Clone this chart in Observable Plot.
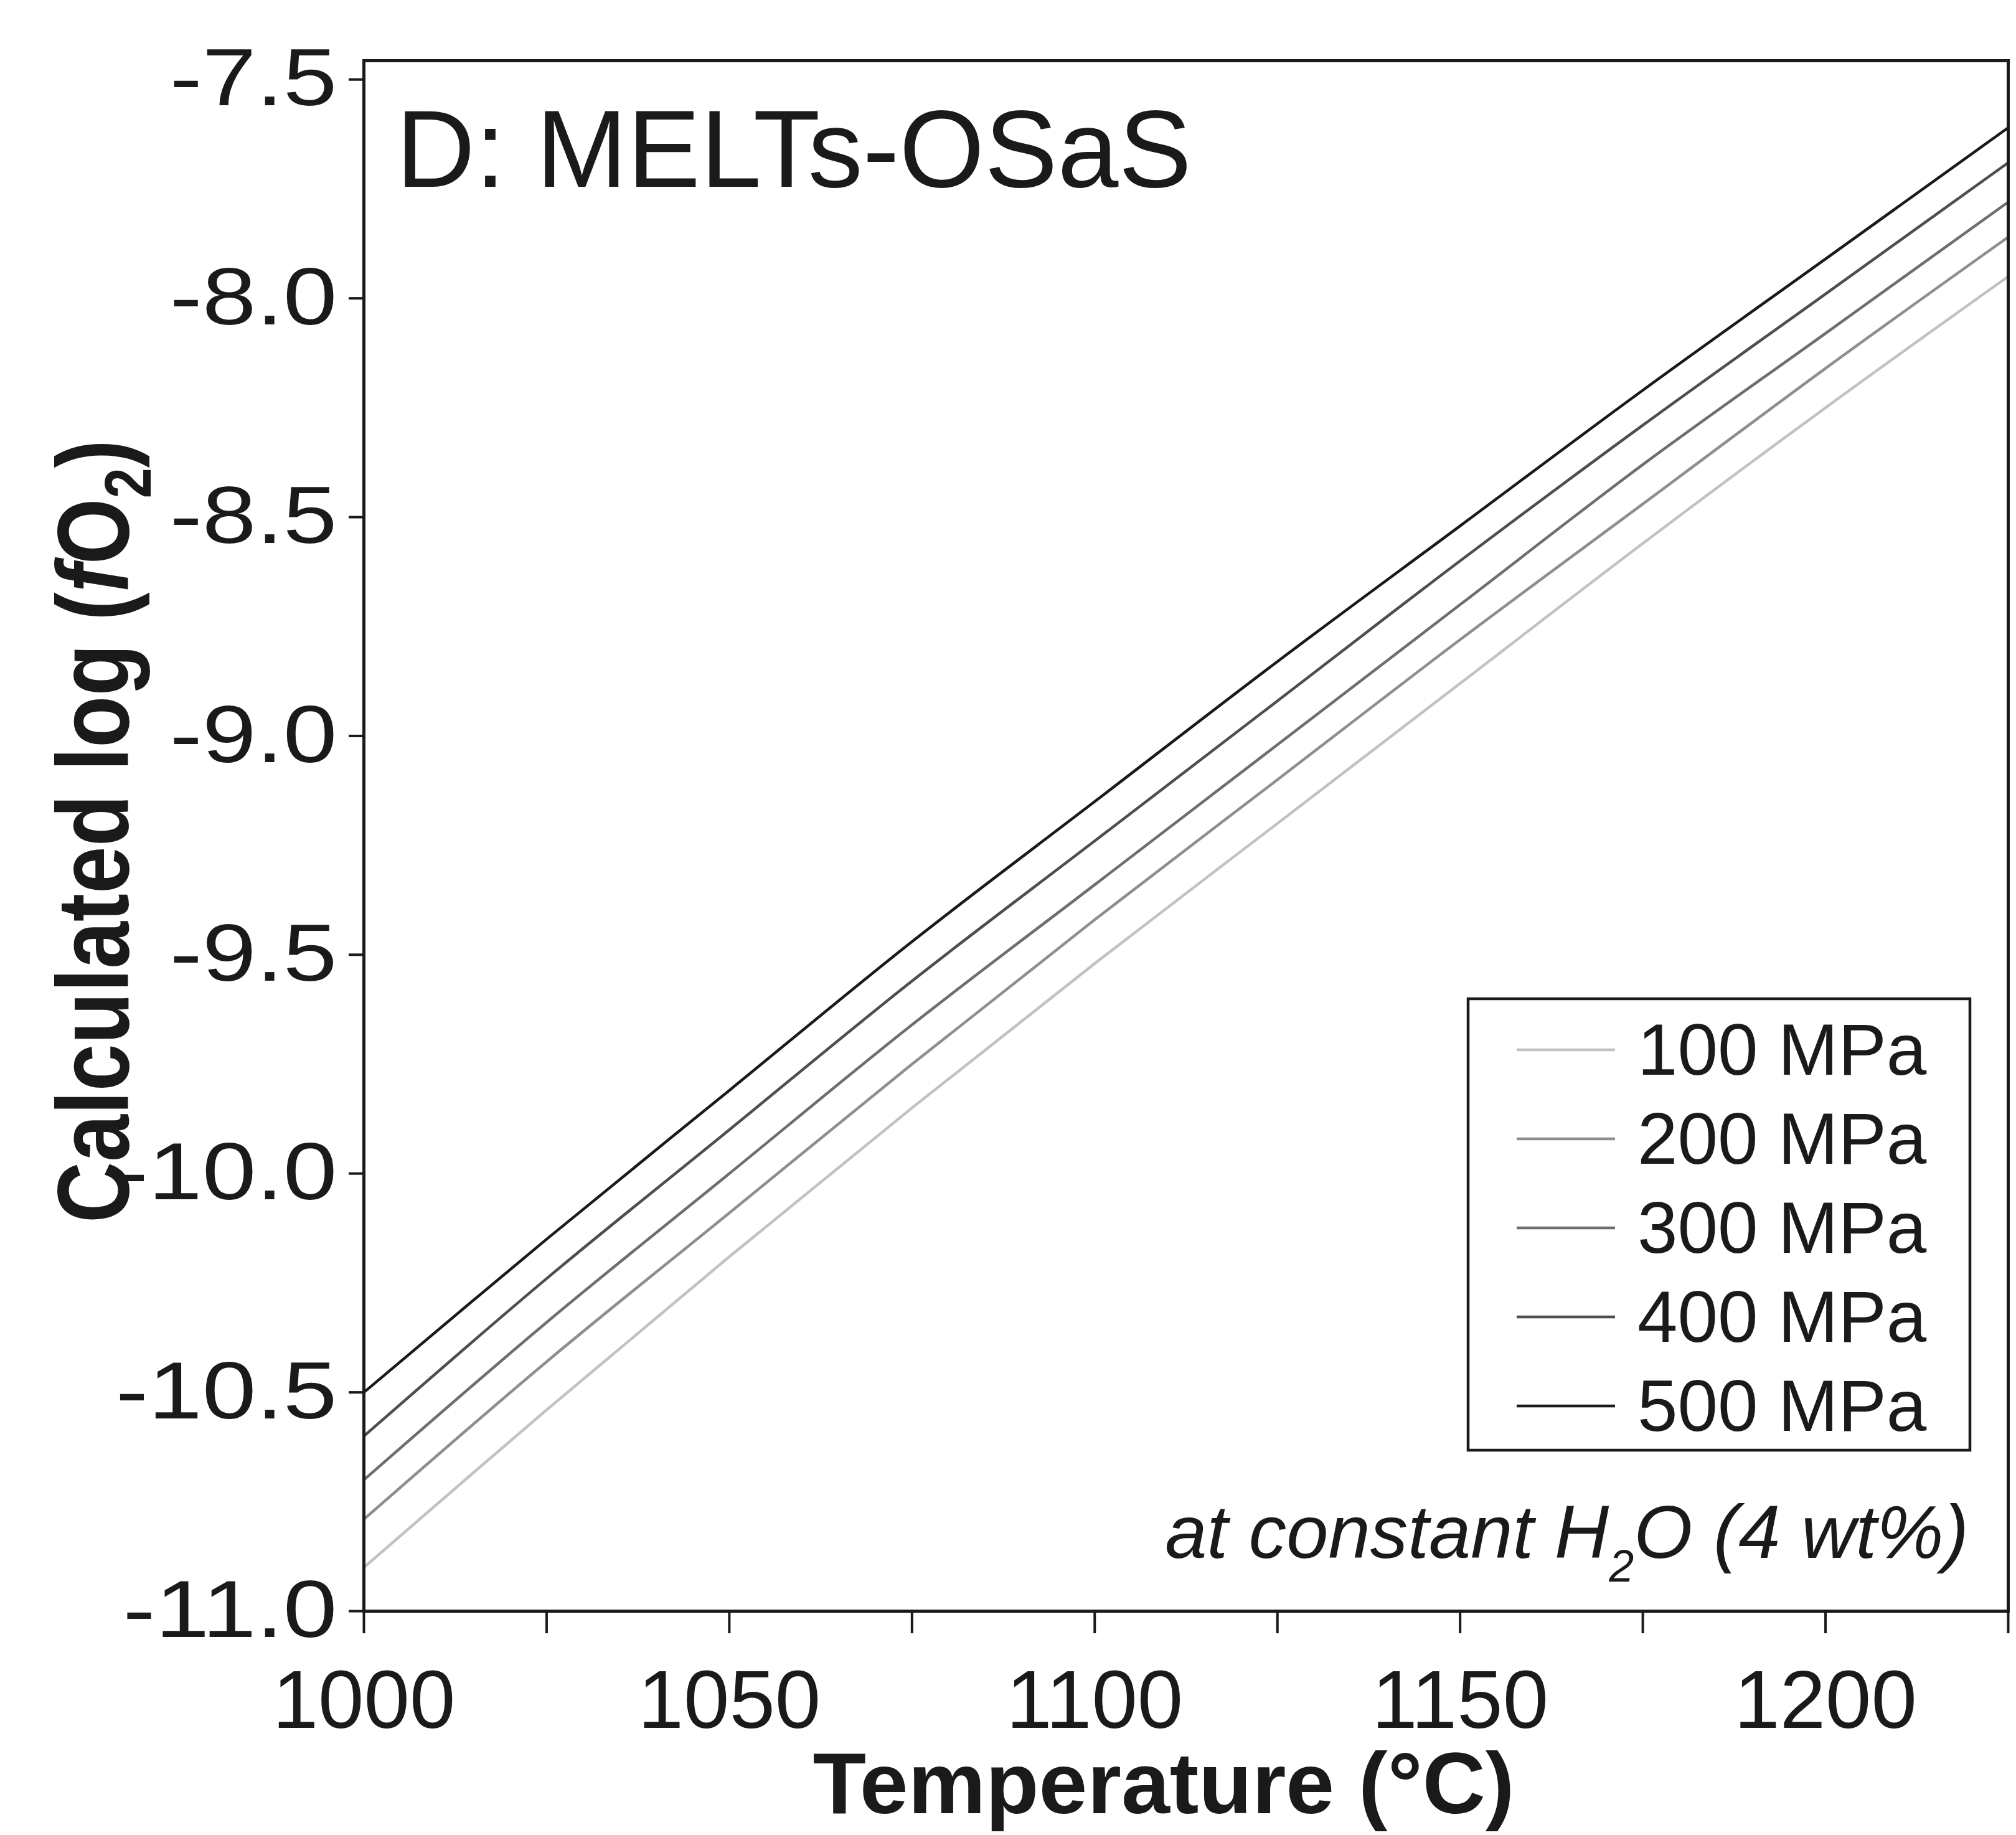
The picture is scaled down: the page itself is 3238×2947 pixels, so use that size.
<!DOCTYPE html>
<html><head><meta charset="utf-8">
<script src="https://cdn.jsdelivr.net/npm/d3@7"></script>
<script src="https://cdn.jsdelivr.net/npm/@observablehq/plot@0.6"></script>
<style>body{margin:0;background:#fff}</style>
</head><body><div id="chart"></div>
<script>
// Data
const temps = [1000, 1025, 1050, 1075, 1100, 1125, 1150, 1175, 1200, 1225];
const p100 = [-10.90, -10.54, -10.19, -9.85, -9.52, -9.20, -8.88, -8.56, -8.25, -7.95];
const p200 = [-10.79, -10.43, -10.09, -9.75, -9.42, -9.10, -8.78, -8.47, -8.16, -7.86];
const p300 = [-10.70, -10.34, -10.00, -9.66, -9.34, -9.02, -8.70, -8.38, -8.08, -7.78];
const p400 = [-10.60, -10.24, -9.90, -9.56, -9.24, -8.92, -8.60, -8.29, -7.99, -7.69];
const p500 = [-10.50, -10.15, -9.81, -9.47, -9.15, -8.83, -8.52, -8.21, -7.91, -7.61];
const seriesNames = ["100 MPa", "200 MPa", "300 MPa", "400 MPa", "500 MPa"];
const seriesColors = ["#c2c2c2", "#8e8e8e", "#6e6e6e", "#4e4e4e", "#1a1a1a"];
const xTicks = [1000, 1025, 1050, 1075, 1100, 1125, 1150, 1175, 1200, 1225];
const xTickLabels = [1000, 1050, 1100, 1150, 1200];
const yTicks = [-11.0, -10.5, -10.0, -9.5, -9.0, -8.5, -8.0, -7.5];

const allSeries = [p100, p200, p300, p400, p500];
const data = allSeries.flatMap((vals, i) => temps.map((t, j) => ({T: t, fo2: vals[j], p: seriesNames[i]})));

const W = 3238, H = 2947;
const mL = 584, mR = 13, mT = 97, mB = 360;
const font = "'Liberation Sans', Arial, Helvetica, sans-serif";

const chart = Plot.plot({
  width: W, height: H,
  marginLeft: mL, marginRight: mR, marginTop: mT, marginBottom: mB,
  style: {fontFamily: font, background: "#fff", color: "#1a1a1a"},
  x: {domain: [1000, 1225]},
  y: {domain: [-11, -7.457]},
  color: {domain: seriesNames, range: seriesColors},
  marks: [
    Plot.line(data, {x: "T", y: "fo2", z: "p", stroke: "p", strokeWidth: 4.5, curve: "catmull-rom"}),
    Plot.frame({stroke: "#1a1a1a", strokeWidth: 5}),
    Plot.axisX({ticks: xTicks, tickFormat: d => xTickLabels.includes(d) ? String(d) : "", tickSize: 36, tickPadding: 58, fontSize: 132, strokeWidth: 4, label: null}),
    Plot.axisY({ticks: yTicks, tickFormat: d => d.toFixed(1), tickSize: 24, tickPadding: 19, fontSize: 130, strokeWidth: 4, label: null})
  ]
});
document.getElementById("chart").appendChild(chart);

const svg = d3.select(chart);

// The reference's y tick labels are drawn wider: stretch them about their right edge
svg.selectAll('g[aria-label="y-axis tick label"] text').each(function() {
  const b = this.getBBox();
  const rx = b.x + b.width;
  const t = this.getAttribute("transform") || "";
  this.setAttribute("transform", `${t} translate(${rx},0) scale(1.2,1) translate(${-rx},0)`);
});

// Panel title
svg.append("text").attr("x", 636).attr("y", 300).attr("text-anchor", "start")
  .attr("font-family", font).attr("font-size", 176).attr("fill", "#1a1a1a")
  .text("D: MELTs-OSaS");

// X axis title
svg.append("text").attr("x", 1869).attr("y", 2912).attr("text-anchor", "middle")
  .attr("font-family", font).attr("font-size", 140).attr("font-weight", "bold").attr("fill", "#1a1a1a")
  .text("Temperature (°C)");

// Y axis title
const yl = svg.append("text").attr("transform", "translate(206,1335) scale(1.2,1) rotate(-90)").attr("text-anchor", "middle")
  .attr("font-family", font).attr("font-size", 136).attr("font-weight", "bold").attr("fill", "#1a1a1a");
yl.append("tspan").text("Calculated log (");
yl.append("tspan").attr("font-style", "italic").text("f");
yl.append("tspan").text("O");
yl.append("tspan").attr("font-size", 88).attr("dy", 30).text("2");
yl.append("tspan").attr("dy", -30).text(")");

// Annotation
const an = svg.append("text").attr("x", 3162).attr("y", 2502).attr("text-anchor", "end")
  .attr("font-family", font).attr("font-size", 121).attr("font-style", "italic").attr("fill", "#1a1a1a");
an.append("tspan").text("at constant H");
an.append("tspan").attr("font-size", 72).attr("dy", 38).text("2");
an.append("tspan").attr("dy", -38).text("O (4 wt%)");

// Legend
const lg = svg.append("g");
lg.append("rect").attr("x", 2358).attr("y", 1604).attr("width", 806).attr("height", 725)
  .attr("fill", "#fff").attr("stroke", "#1a1a1a").attr("stroke-width", 4.5);
seriesNames.forEach((name, i) => {
  const cy = 1686 + i * 143;
  lg.append("line").attr("x1", 2436).attr("x2", 2594).attr("y1", cy).attr("y2", cy)
    .attr("stroke", seriesColors[i]).attr("stroke-width", 4.5);
  lg.append("text").attr("x", 2630).attr("y", cy + 40).attr("text-anchor", "start")
    .attr("font-family", font).attr("font-size", 116).attr("fill", "#1a1a1a").text(name);
});
</script>
</body></html>
